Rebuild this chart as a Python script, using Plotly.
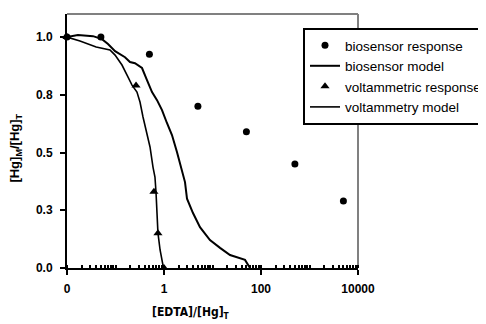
import plotly.graph_objects as go

# biosensor response (circles)
bio_x = [0.01, 0.05, 0.5, 5, 50, 500, 5000]
bio_y = [1.0, 1.0, 0.926, 0.70, 0.59, 0.45, 0.29]

# voltammetric response (triangles)
volt_x = [0.01, 0.265, 0.62, 0.75, 1.0]
volt_y = [1.0, 0.79, 0.33, 0.15, 0.0]

# biosensor model
bmod_x = [0.01, 0.0168, 0.0344, 0.0527, 0.070, 0.098, 0.157, 0.199, 0.252, 0.352, 0.446,
          0.566, 0.718, 0.91, 1.15, 1.46, 1.85, 2.35, 2.71, 2.98, 3.96, 5.52, 8.87, 14.3,
          23.0, 46.8, 59.3]
bmod_y = [1.0, 1.009, 1.004, 0.991, 0.970, 0.939, 0.913, 0.892, 0.887, 0.866, 0.814,
          0.762, 0.727, 0.684, 0.628, 0.576, 0.502, 0.424, 0.372, 0.30, 0.238, 0.177, 0.121, 0.087,
          0.056, 0.035, 0.0]

# voltammetry model
vmod_x = [0.01, 0.0185, 0.040, 0.077, 0.098, 0.136, 0.173, 0.219, 0.277, 0.32, 0.369, 0.446,
          0.515, 0.593, 0.651, 0.684, 0.75, 0.83, 0.95, 1.05]
vmod_y = [1.0, 0.983, 0.957, 0.944, 0.922, 0.879, 0.835, 0.792, 0.762, 0.719, 0.654, 0.584,
          0.524, 0.437, 0.394, 0.329, 0.152, 0.078, 0.013, 0.0]

x_tickvals = [0.01, 1, 100, 10000]
x_ticktext = ["0", "1", "100", "10000"]
y_tickvals = [0, 0.25, 0.5, 0.75, 1.0]
y_ticktext = ["0.0", "0.3", "0.5", "0.8", "1.0"]

x_title = "[EDTA]/[Hg]<sub>T</sub>"
y_title = "[Hg]<sub>M</sub>/[Hg]<sub>T</sub>"

FONT = "Liberation Sans, Arial, sans-serif"
NARROW = "Liberation Sans Narrow, Arial Narrow, DejaVu Sans Condensed, Liberation Sans, sans-serif"

fig = go.Figure()
fig.add_trace(go.Scatter(x=bio_x, y=bio_y, mode="markers", name="biosensor response",
                         marker=dict(symbol="circle", size=7, color="black"), cliponaxis=False))
fig.add_trace(go.Scatter(x=bmod_x, y=bmod_y, mode="lines", name="biosensor model",
                         line=dict(color="black", width=2)))
fig.add_trace(go.Scatter(x=volt_x, y=volt_y, mode="markers", name="voltammetric response",
                         marker=dict(symbol="triangle-up", size=8, color="black"), cliponaxis=False))
fig.add_trace(go.Scatter(x=vmod_x, y=vmod_y, mode="lines", name="voltammetry model",
                         line=dict(color="black", width=1.6)))

# gray plot-area border (top and right)
fig.add_shape(type="line", xref="paper", yref="paper", x0=0, x1=1, y0=1, y1=1,
              line=dict(color="#808080", width=2), layer="below")
fig.add_shape(type="line", xref="paper", yref="paper", x0=1, x1=1, y0=0, y1=1,
              line=dict(color="#808080", width=2), layer="below")

# axis titles
fig.add_annotation(text=x_title, xref="paper", yref="paper", x=0.425, y=0,
                   xanchor="center", yanchor="middle", yshift=-45, showarrow=False,
                   font=dict(family=NARROW, size=12, color="black", weight="bold"))
fig.add_annotation(text=y_title, xref="paper", yref="paper", x=0, y=0.47,
                   xanchor="center", yanchor="middle", xshift=-51, textangle=-90, showarrow=False,
                   font=dict(family=FONT, size=13, color="black", weight="bold"))

fig.update_layout(
    width=478, height=316,
    margin=dict(l=59, r=128, t=6, b=56, autoexpand=False),
    paper_bgcolor="white", plot_bgcolor="white",
    font=dict(family=FONT, color="black"),
    showlegend=True,
    legend=dict(x=0.811, y=0.945, xanchor="left", yanchor="top",
                bgcolor="white", bordercolor="black", borderwidth=2,
                font=dict(family=FONT, size=13.5, color="black"),
                itemwidth=30, tracegroupgap=0),
    xaxis=dict(type="log", range=[-2, 4], tickvals=x_tickvals, ticktext=x_ticktext,
               showgrid=False, zeroline=False, showline=True, linecolor="black", linewidth=2,
               ticks="outside", ticklen=5, tickwidth=2, tickcolor="black", ticklabelstandoff=4,
               tickfont=dict(family=FONT, size=12, color="black", weight="bold"),
               minor=dict(ticks="inside", ticklen=3, tickwidth=1.5, tickcolor="black", dtick="D1", showgrid=False)),
    yaxis=dict(range=[0, 1.1], tickvals=y_tickvals, ticktext=y_ticktext,
               showgrid=False, zeroline=False, showline=True, linecolor="black", linewidth=2,
               ticks="outside", ticklen=5, tickwidth=2, tickcolor="black", ticklabelstandoff=5,
               tickfont=dict(family=FONT, size=12, color="black", weight="bold")),
)

fig.write_html("out.html")
